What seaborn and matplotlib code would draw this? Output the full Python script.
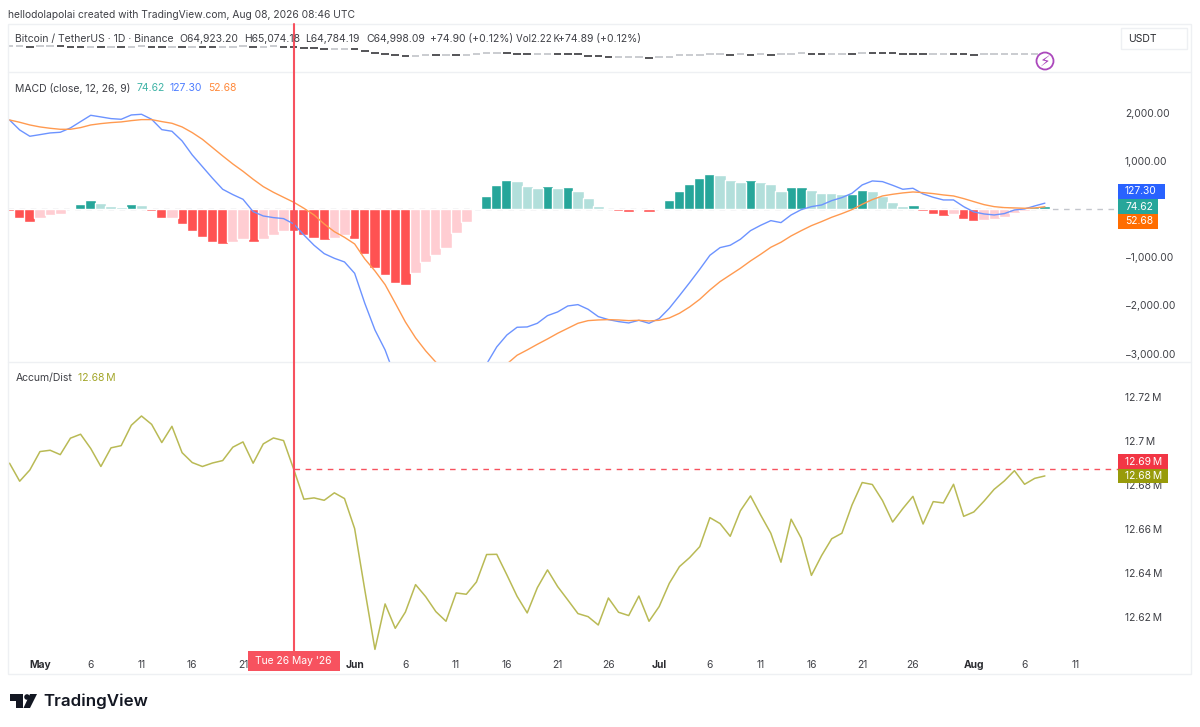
import numpy as np
import pandas as pd
import matplotlib
matplotlib.use('Agg')
import matplotlib.pyplot as plt
from matplotlib.patches import Rectangle, Circle, Polygon
from matplotlib.lines import Line2D
from matplotlib.transforms import IdentityTransform
import seaborn as sns

# days counted from 1 May 2026, first bar is 28 Apr
days = list(range(-3, 100))

hist_values = [
    -35, -187, -256, -173, -118, -90, 14, 111, 194, 125, 69, 49, 111, 90, -28, -187, -173, -312, -450, -575,
    -672, -714, -672, -617, -686, -624, -541, -444, -450, -534, -603, -631, -589, -534, -610, -922, -1227, -1358, -1538, -1566,
    -1317, -1088, -942, -797, -499, -256, 21, 277, 506, 603, 596, 485, 450, 485, 444, 457, 381, 236, 69, 7,
    -42, -55, 14, -55, 35, 201, 381, 527, 645, 728, 707, 610, 575, 610, 575, 534, 388, 457, 471, 395,
    340, 340, 319, 326, 395, 381, 284, 159, 76, 90, -28, -97, -132, -90, -194, -250, -229, -208, -152, -69,
    -35, 40, 74.62,
]
macd_values = [
    1857, 1649, 1518, 1552, 1587, 1601, 1691, 1823, 1954, 1920, 1885, 1871, 1961, 1975, 1871, 1656, 1622, 1421, 1130, 887,
    644, 416, 305, 208, -49, -139, -173, -194, -305, -534, -748, -922, -1019, -1095, -1331, -1954, -2509, -2924, -3492, -3909,
    -3989, -4032, -4121, -4175, -4002, -3823, -3541, -3216, -2861, -2613, -2453, -2446, -2370, -2211, -2134, -2010, -1982, -2079, -2231, -2294,
    -2335, -2363, -2308, -2370, -2273, -2058, -1795, -1525, -1247, -956, -797, -748, -624, -444, -333, -236, -277, -118, -7, 55,
    90, 180, 243, 333, 506, 589, 575, 499, 416, 437, 319, 249, 194, 194, 55, -55, -97, -118, -90, -14,
    7, 69, 127.30,
]
signal_values = [
    1857, 1809, 1753, 1712, 1684, 1663, 1663, 1698, 1753, 1781, 1802, 1816, 1843, 1864, 1864, 1823, 1788, 1712, 1594, 1455,
    1282, 1109, 942, 790, 624, 471, 353, 249, 146, 21, -118, -305, -465, -583, -721, -1032, -1282, -1566, -1951, -2343,
    -2672, -2944, -3179, -3378, -3503, -3567, -3562, -3493, -3367, -3216, -3035, -2924, -2807, -2696, -2578, -2474, -2370, -2315, -2301, -2294,
    -2301, -2315, -2308, -2322, -2308, -2259, -2162, -2030, -1871, -1677, -1504, -1365, -1227, -1074, -936, -790, -686, -554, -444, -340,
    -256, -166, -90, -7, 104, 201, 277, 312, 340, 360, 347, 326, 298, 277, 222, 159, 97, 55, 35, 28,
    21, 28, 52.68,
]
accum_values = [
    12.6899, 12.6817, 12.6868, 12.6952, 12.6958, 12.6938, 12.7013, 12.7031, 12.6966, 12.6884, 12.6969, 12.6979, 12.7072, 12.7114, 12.7076, 12.6993, 12.7067, 12.6947, 12.6902, 12.6884,
    12.6900, 12.6911, 12.6972, 12.6996, 12.6899, 12.6987, 12.7014, 12.7002, 12.6871, 12.6735, 12.6741, 12.6730, 12.6764, 12.6738, 12.6601, 12.6322, 12.6051, 12.6258, 12.6147, 12.6221,
    12.6346, 12.6291, 12.6223, 12.6179, 12.6308, 12.6302, 12.6358, 12.6483, 12.6484, 12.6390, 12.6293, 12.6217, 12.6332, 12.6413, 12.6337, 12.6276, 12.6214, 12.6200, 12.6162, 12.6285,
    12.6220, 12.6205, 12.6294, 12.6179, 12.6246, 12.6352, 12.6428, 12.6469, 12.6519, 12.6651, 12.6624, 12.6566, 12.6682, 12.6750, 12.6663, 12.6580, 12.6448, 12.6644, 12.6557, 12.6388,
    12.6478, 12.6555, 12.6580, 12.6709, 12.6811, 12.6802, 12.6729, 12.6631, 12.6692, 12.6748, 12.6622, 12.6724, 12.6718, 12.6803, 12.6657, 12.6677, 12.6726, 12.6780, 12.6818, 12.6865,
    12.6803, 12.6830, 12.6841,
]
close_values = [
    75218, 75358, 75078, 75218, 75358, 75218, 75078, 74938, 75078, 74938, 75078, 74938, 75078, 75218, 75078, 74938, 75078, 74938, 75078, 74938,
    74798, 74938, 75078, 75218, 74938, 75078, 75218, 75078, 74798, 73398, 73258, 71998, 72138, 72278, 71578, 68358, 65558, 64158, 63178, 62198,
    62478, 63598, 63038, 63318, 63178, 63878, 64438, 65558, 65698, 65558, 65278, 64578, 64858, 64998, 64578, 64438, 64158, 62198, 61358, 59958,
    59958, 60098, 60378, 59538, 59958, 60798, 62758, 63458, 63458, 64018, 64298, 63878, 64018, 63878, 64018, 63878, 64018, 64298, 65558, 65278,
    64998, 65278, 65278, 65138, 66258, 66118, 65838, 65558, 65278, 65138, 64718, 64998, 65138, 64998, 64298, 63878, 64158, 64298, 64578, 64718,
    64998, 65278, 64998.09,
]

x_tick_days = [0, 5, 10, 15, 20, 31, 36, 41, 46, 51, 56, 61, 66, 71, 76, 81, 86, 92, 97, 102]
x_tick_labels = ['May', '6', '11', '16', '21', 'Jun', '6', '11', '16', '21', '26', 'Jul', '6', '11', '16', '21', '26', 'Aug', '6', '11']
month_labels = ['May', 'Jun', 'Jul', 'Aug']
macd_ticks = [2000, 1000, 0, -1000, -2000, -3000]
macd_tick_labels = ['2,000.00', '1,000.00', '', '\u22121,000.00', '\u22122,000.00', '\u22123,000.00']
accum_ticks = [12.72, 12.70, 12.68, 12.66, 12.64, 12.62]
accum_tick_labels = ['12.72\u2009M', '12.7\u2009M', '12.68\u2009M', '12.66\u2009M', '12.64\u2009M', '12.62\u2009M']
crosshair_day = 25
crosshair_accum = 12.6871

BLUE = '#2962ff'
TEAL = '#26a69a'
ORANGE = '#ff6d00'
RED = '#f7525f'
OLIVE = '#989b0a'
TEXT = '#3f4046'
FRAME = '#eef0f3'

sns.set_theme(style='white')
plt.rcParams['font.family'] = ['Inter', 'DejaVu Sans']

W, H = 1200, 727
fig = plt.figure(figsize=(12, 7.27), dpi=100, facecolor='white')


def fx(px):
    return px / W


def fy(py):
    return 1 - py / H


def pane(left, top, right, bottom):
    ax = fig.add_axes([fx(left), fy(bottom), (right - left) / W, (bottom - top) / H])
    ax.set_facecolor('none')
    for s in ax.spines.values():
        s.set_visible(False)
    ax.set_xlim(-3.15, 106.4)
    ax.set_xlabel('')
    ax.set_ylabel('')
    return ax


def label(px, py, s, color=TEXT, size=7.5, **kw):
    fig.text(fx(px), fy(py), s, color=color, fontsize=size, va='center', ha=kw.pop('ha', 'left'), **kw)


def tag(top, bottom, right, color, s):
    fig.add_artist(Rectangle((fx(1118), fy(bottom)), (right - 1118) / W, (bottom - top) / H,
                             transform=fig.transFigure, facecolor=color, edgecolor='none', zorder=4))
    fig.text(fx(1125), fy((top + bottom) / 2), s, color='white', fontsize=7.4, va='center', zorder=5)


# histogram colours depend on whether the bar grows or shrinks
states = []
for i, v in enumerate(hist_values):
    prev = hist_values[i - 1] if i > 0 else 0
    if v >= 0:
        states.append('up_strong' if v > prev else 'up_weak')
    else:
        states.append('down_strong' if v < prev else 'down_weak')
df = pd.DataFrame({'day': days, 'hist': hist_values, 'macd': macd_values, 'signal': signal_values,
                   'accum': accum_values, 'close': close_values, 'state': states})
hist_palette = {'up_strong': '#26a69a', 'up_weak': '#b2dfdb', 'down_strong': '#ff5252', 'down_weak': '#ffcdd2'}

# price pane, squashed candles
ax_price = pane(8, 24, 1120, 72)
opens = df['close'].shift(1).fillna(df['close'])
candle_colors = ['#bcbfc3' if c >= o else '#26262a' for c, o in zip(df['close'], opens)]
ax_price.hlines(df['close'], df['day'] - 0.37, df['day'] + 0.37, colors=candle_colors, linewidth=1.1)
ax_price.set_ylim(39378, 106578)
ax_price.set_xticks([])
ax_price.set_yticks([])

# MACD pane
ax_macd = pane(8, 72, 1120, 362)
ax_macd.axhline(0, color='#c3c6cc', lw=1, dashes=(4, 4), zorder=0)
sns.barplot(data=df, x='day', y='hist', hue='state', palette=hist_palette, dodge=False, native_scale=True,
            width=1.1, saturation=1, legend=False, ax=ax_macd, zorder=2)
sns.lineplot(data=df, x='day', y='macd', color='#6c93ff', lw=1.0, errorbar=None, ax=ax_macd, zorder=3)
sns.lineplot(data=df, x='day', y='signal', color='#ff9a50', lw=1.0, errorbar=None, ax=ax_macd, zorder=4)
ax_macd.set_xlim(-3.15, 106.4)
ax_macd.set_ylim(-3175, 2854)
ax_macd.set_xticks([])
ax_macd.yaxis.tick_right()
ax_macd.set_yticks(macd_ticks)
ax_macd.set_yticklabels(macd_tick_labels)
ax_macd.tick_params(axis='y', length=0, pad=3.6, labelsize=7.4, labelcolor=TEXT)
ax_macd.set_xlabel('')
ax_macd.set_ylabel('')

# Accum/Dist pane
ax_accum = pane(8, 362, 1120, 652)
ax_accum.hlines(crosshair_accum, crosshair_day, 106.4, color=RED, lw=1, linestyles=(0, (4, 4)))
sns.lineplot(data=df, x='day', y='accum', color='#b9ba55', lw=1.1, errorbar=None, ax=ax_accum)
ax_accum.set_xlim(-3.15, 106.4)
ax_accum.set_ylim(12.6039, 12.7360)
ax_accum.yaxis.tick_right()
ax_accum.set_yticks(accum_ticks)
ax_accum.set_yticklabels(accum_tick_labels)
ax_accum.tick_params(axis='y', length=0, pad=3.6, labelsize=7.4, labelcolor=TEXT)
ax_accum.set_xticks(x_tick_days)
ax_accum.set_xticklabels(x_tick_labels)
ax_accum.tick_params(axis='x', length=0, pad=5.5, labelsize=7.4, labelcolor=TEXT)
for t in ax_accum.get_xticklabels():
    if t.get_text() in month_labels:
        t.set_fontweight('bold')
        t.set_color('#2a2b30')
ax_accum.set_xlabel('')
ax_accum.set_ylabel('')

# frame and pane separators
fig.add_artist(Rectangle((fx(8), fy(674)), (1191 - 8) / W, (674 - 24) / H, transform=fig.transFigure,
                         facecolor='none', edgecolor=FRAME, lw=1, zorder=1))
for py in [72, 362]:
    fig.add_artist(Line2D([fx(8), fx(1191)], [fy(py), fy(py)], color=FRAME, lw=1, zorder=1))

# crosshair
cross_x = ax_macd.transData.transform((crosshair_day, 0))[0]
fig.add_artist(Line2D([cross_x / W, cross_x / W], [fy(24), fy(652)], color=RED, lw=1.5, zorder=3))
fig.add_artist(Rectangle((fx(248), fy(671)), 92 / W, 20 / H, transform=fig.transFigure,
                         facecolor=RED, edgecolor='none', zorder=4))
fig.text(cross_x / W, fy(661.5), "Tue 26 May '26", color='white', fontsize=7.4, ha='center', va='center', zorder=5)

# header and legends
label(8, 15, 'hellodolapolai created with TradingView.com, Aug 08, 2026 08:46 UTC', size=7.4)
for px, s in [(15, 'Bitcoin / TetherUS \u00b7 1D \u00b7 Binance'), (179, 'O64,923.20'), (244, 'H65,074.18'),
              (305, 'L64,784.19'), (366, 'C64,998.09'), (430, '+74.90 (+0.12%)'), (558, '+74.89 (+0.12%)')]:
    label(px, 39, s)
label(516, 39, 'Vol2.22\u2009K', size=7.0)
label(15, 88, 'MACD (close, 12, 26, 9)')
label(137, 88, '74.62', color='#3fb3a6')
label(170, 88, '127.30', color='#4d7dff')
label(208, 88, '52.68', color='#ff8a3c')
label(16, 378, 'Accum/Dist')
label(78, 378, '12.68\u2009M', color='#a3a62a')

# value tags on the scale
tag(184, 199, 1165, BLUE, '127.30')
tag(199, 214, 1158, TEAL, '74.62')
tag(214, 229, 1158, ORANGE, '52.68')
tag(454, 469, 1168, '#f23645', '12.69\u2009M')
tag(469, 483, 1168, OLIVE, '12.68\u2009M')

# USDT box
fig.add_artist(Rectangle((fx(1121), fy(49)), 66 / W, 21 / H, transform=fig.transFigure,
                         facecolor='white', edgecolor=FRAME, lw=1, zorder=2))
label(1128, 38.5, 'USDT', color='#2a2b30', zorder=5)

# bolt marker
bolt = Circle((1045, H - 61), 8.5, facecolor='white', edgecolor='#ab47bc', lw=1.3, transform=IdentityTransform())
fig.add_artist(bolt)
fig.text(fx(1045), fy(61), '\u26a1', color='#ab47bc', fontsize=11, ha='center', va='center',
         family=['DejaVu Sans'], zorder=5)

# TradingView logo
logo = '#131722'
for pts in [[(10, 694), (23, 694), (23, 708), (16, 708), (16, 701), (10, 701)],
            [(30, 694), (37, 694), (30, 708), (23.5, 708)]]:
    fig.add_artist(Polygon([(fx(a), fy(b)) for a, b in pts], transform=fig.transFigure, facecolor=logo, edgecolor='none'))
fig.add_artist(Circle((27, H - 697), 2.8, facecolor=logo, edgecolor='none', transform=IdentityTransform()))
fig.text(fx(43), fy(701), 'TradingView', color=logo, fontsize=12.2, fontweight='semibold', va='center')

fig.savefig('out.png', dpi=100)
